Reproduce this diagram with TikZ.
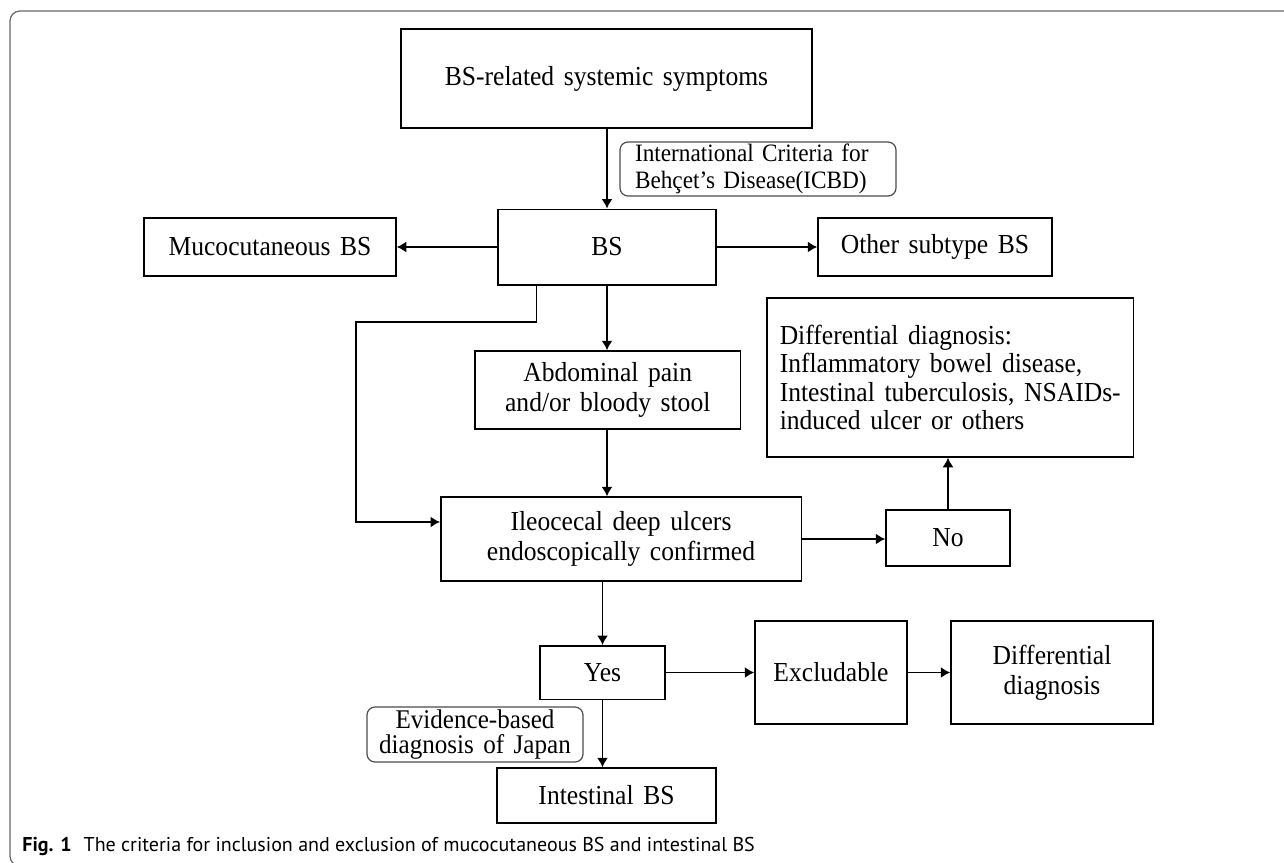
\documentclass[tikz,border=0pt]{standalone}
\usepackage{fontspec}
\setmainfont{Liberation Serif}[FakeStretch=0.93,WordSpace=1.5]
\newfontfamily\capfont{PT Sans}
\usetikzlibrary{arrows.meta,positioning}

\begin{document}
\begin{tikzpicture}[x=0.5pt,y=-0.5pt,
    box/.style={draw,line width=0.75pt,align=center,inner sep=0pt,
        font=\fontsize{13.75}{15}\selectfont},
    note/.style={draw=black!70,rounded corners=4pt,line width=0.6pt,inner sep=0pt,
        font=\fontsize{12.5}{13.5}\selectfont},
    flow/.style={-{Latex[length=4.75pt,width=5.5pt]},line width=0.75pt}]
\useasboundingbox (0,0) rectangle (1284,862);
\draw[black!60,line width=0.6pt,rounded corners=5pt] (1290,11) -- (10,11) -- (10,866) -- (40,866);

\node[box,minimum width=205.5pt,minimum height=49.5pt] (symp) at (606.5,78.5) {BS-related systemic symptoms};
\node[note,align=left,text width=123pt,inner xsep=7.5pt,minimum height=27pt] (icbd) at (758,169)
    {International Criteria for\\Behçet’s Disease(ICBD)};
\node[box,minimum width=109pt,minimum height=37.75pt] (bs) at (607,247) {BS};
\node[box,minimum width=126pt,minimum height=29pt] (muco) at (270,247) {Mucocutaneous BS};
\node[box,minimum width=117pt,minimum height=29pt] (other) at (935,247) {Other subtype BS};
\node[box,minimum width=132.75pt,minimum height=39pt] (abd) at (607.75,390) {Abdominal pain\\and/or bloody stool};
\node[box,anchor=west,align=left,inner xsep=6.5pt,minimum height=79.5pt,
    font=\fontsize{13.75}{14.3}\selectfont] (ddx) at (766,377.5)
    {Differential diagnosis:\\Inflammatory bowel disease,\\Intestinal tuberculosis, NSAIDs-\\induced ulcer or others};
\node[box,minimum width=180.25pt,minimum height=42pt] (ileo) at (621,539) {Ileocecal deep ulcers\\endoscopically confirmed};
\node[box,minimum width=62pt,minimum height=28pt] (no) at (948,538) {No};
\node[box,minimum width=62.5pt,minimum height=26.75pt] (yes) at (602.5,672.5) {Yes};
\node[box,minimum width=76pt,minimum height=51.5pt] (excl) at (831,672.5) {Excludable};
\node[box,minimum width=101pt,minimum height=51.5pt] (dd) at (1052,672.5) {Differential\\diagnosis};
\node[note,align=center,minimum width=108pt,minimum height=27.5pt,
    font=\fontsize{13.5}{12.8}\selectfont] (evid) at (475,734.5)
    {Evidence-based\\diagnosis of Japan};
\node[box,minimum width=109.5pt,minimum height=27.5pt] (intest) at (606.5,795.5) {Intestinal BS};
\node[anchor=west,inner sep=0pt,font=\capfont\fontsize{10}{12}\selectfont] (cap) at (22,846)
    {\textbf{Fig. 1}\hspace{0.6em}The criteria for inclusion and exclusion of mucocutaneous BS and intestinal BS};

\draw[flow] (symp.south -| bs.north) -- (bs.north);
\draw[flow] (bs.west) -- (muco.east);
\draw[flow] (bs.east) -- (other.west);
\draw[flow] (bs.south) -- (abd.north -| bs.south);
\draw[flow] (abd.south -| bs.south) -- (ileo.north -| bs.south);
\coordinate (elbow) at (356,322);
\draw[flow] ([xshift=19.5pt]bs.south west) |- (elbow) |- ([yshift=8.5pt]ileo.west);
\draw[flow] (ileo.east) -- (ileo.east -| no.west);
\draw[flow] (no.north) -- (no.north |- ddx.south);
\draw[flow] (ileo.south -| yes.north) -- (yes.north);
\draw[flow] (yes.east) -- (excl.west);
\draw[flow] (excl.east) -- (dd.west);
\draw[flow] (yes.south) -- (intest.north -| yes.south);
\end{tikzpicture}
\end{document}
